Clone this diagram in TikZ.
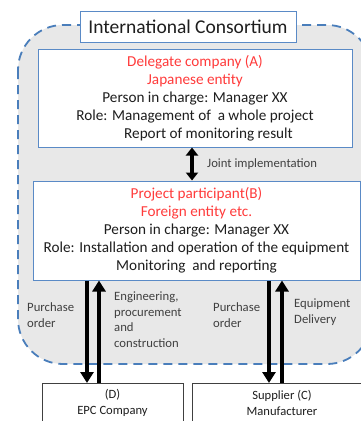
\documentclass[tikz,border=0pt]{standalone}
\usepackage{fontspec}
\setmainfont{Carlito}
\usetikzlibrary{arrows.meta}
\definecolor{boxblue}{HTML}{5A8AC6}
\definecolor{dashblue}{HTML}{4A7EBB}
\definecolor{zonegray}{HTML}{E8E8E8}
\definecolor{leadred}{HTML}{FF3B3B}
\definecolor{textdark}{HTML}{1E1E1E}
\tikzset{
  party/.style={draw=boxblue, line width=1pt, fill=white, align=center, text=textdark,
    font=\fontsize{15.2}{18}\selectfont, inner sep=0pt},
  vendor/.style={draw=black!75, line width=0.7pt, fill=white, inner sep=0pt},
  vendortext/.style={font=\fontsize{12.6}{16}\selectfont, text=textdark, align=center},
  flow/.style={line width=4pt, -{Triangle[width=13pt,length=11pt]}},
  note/.style={font=\fontsize{12.7}{15.5}\selectfont, text=textdark!85, align=left, anchor=west, inner sep=0pt},
}
\begin{document}
\begin{tikzpicture}[x=1pt,y=-1pt]
\useasboundingbox (0,0) rectangle (361,421);
\clip (0,0) rectangle (361,421);
% consortium zone
\draw[dashblue, fill=zonegray, line width=1.8pt, dash pattern=on 9pt off 6pt, rounded corners=45pt]
  (18,25) rectangle (372,364);
% partner boxes
\node[party, minimum width=314pt, minimum height=98pt] (A) at (195,98)
  {\textcolor{leadred}{Delegate company (A)}\\
   \textcolor{leadred}{Japanese entity}\\
   Person in charge: Manager XX\\
   Role: Management of~ a whole project\\
   \hspace*{27pt}Report of monitoring result};
\node[party, minimum width=327pt, minimum height=99pt] (B) at (196.5,230.5)
  {\textcolor{leadred}{Project participant(B)}\\
   \textcolor{leadred}{Foreign entity etc.}\\
   Person in charge: Manager XX\\
   Role: Installation and operation of the equipment\\
   Monitoring~ and reporting};
% title
\node[draw=boxblue, line width=1pt, fill=white, minimum width=216pt, minimum height=31pt,
  font=\fontsize{19.5}{22}\selectfont, text=textdark, inner sep=0pt] (T) at (188,26.5) {International Consortium};
% contractors
\node[vendor, minimum width=141pt, minimum height=60pt, anchor=north west] (D) at (42,383) {};
\node[vendor, minimum width=190pt, minimum height=60pt, anchor=north west] (C) at (192,383) {};
\node[vendortext] (Dt) at (112.5,403) {(D)\\EPC Company};
\node[vendortext] (Ct) at (282,403) {Supplier (C)\\Manufacturer};
% coordination between A and B
\draw[line width=3.5pt, {Triangle[width=12pt,length=8pt]}-{Triangle[width=12pt,length=8pt]}]
  (A.south -| 192,0) -- (B.north -| 192,0);
\node[note] (J) at (207,164) {Joint implementation};
% flows with D
\draw[flow] (B.south -| 87,0) -- (D.north -| 87,0);
\draw[flow] (D.north -| 99,0) -- (B.south -| 99,0);
\node[note] (Dp) at (27,315) {Purchase\\order};
\node[note] (De) at (114,319.5) {Engineering,\\procurement\\and\\construction};
% flows with C
\draw[flow] (B.south -| 269,0) -- (C.north -| 269,0);
\draw[flow] (C.north -| 282,0) -- (B.south -| 282,0);
\node[note] (Cp) at (213,315) {Purchase\\order};
\node[note] (Cd) at (294,312) {Equipment\\Delivery};
\end{tikzpicture}
\end{document}
